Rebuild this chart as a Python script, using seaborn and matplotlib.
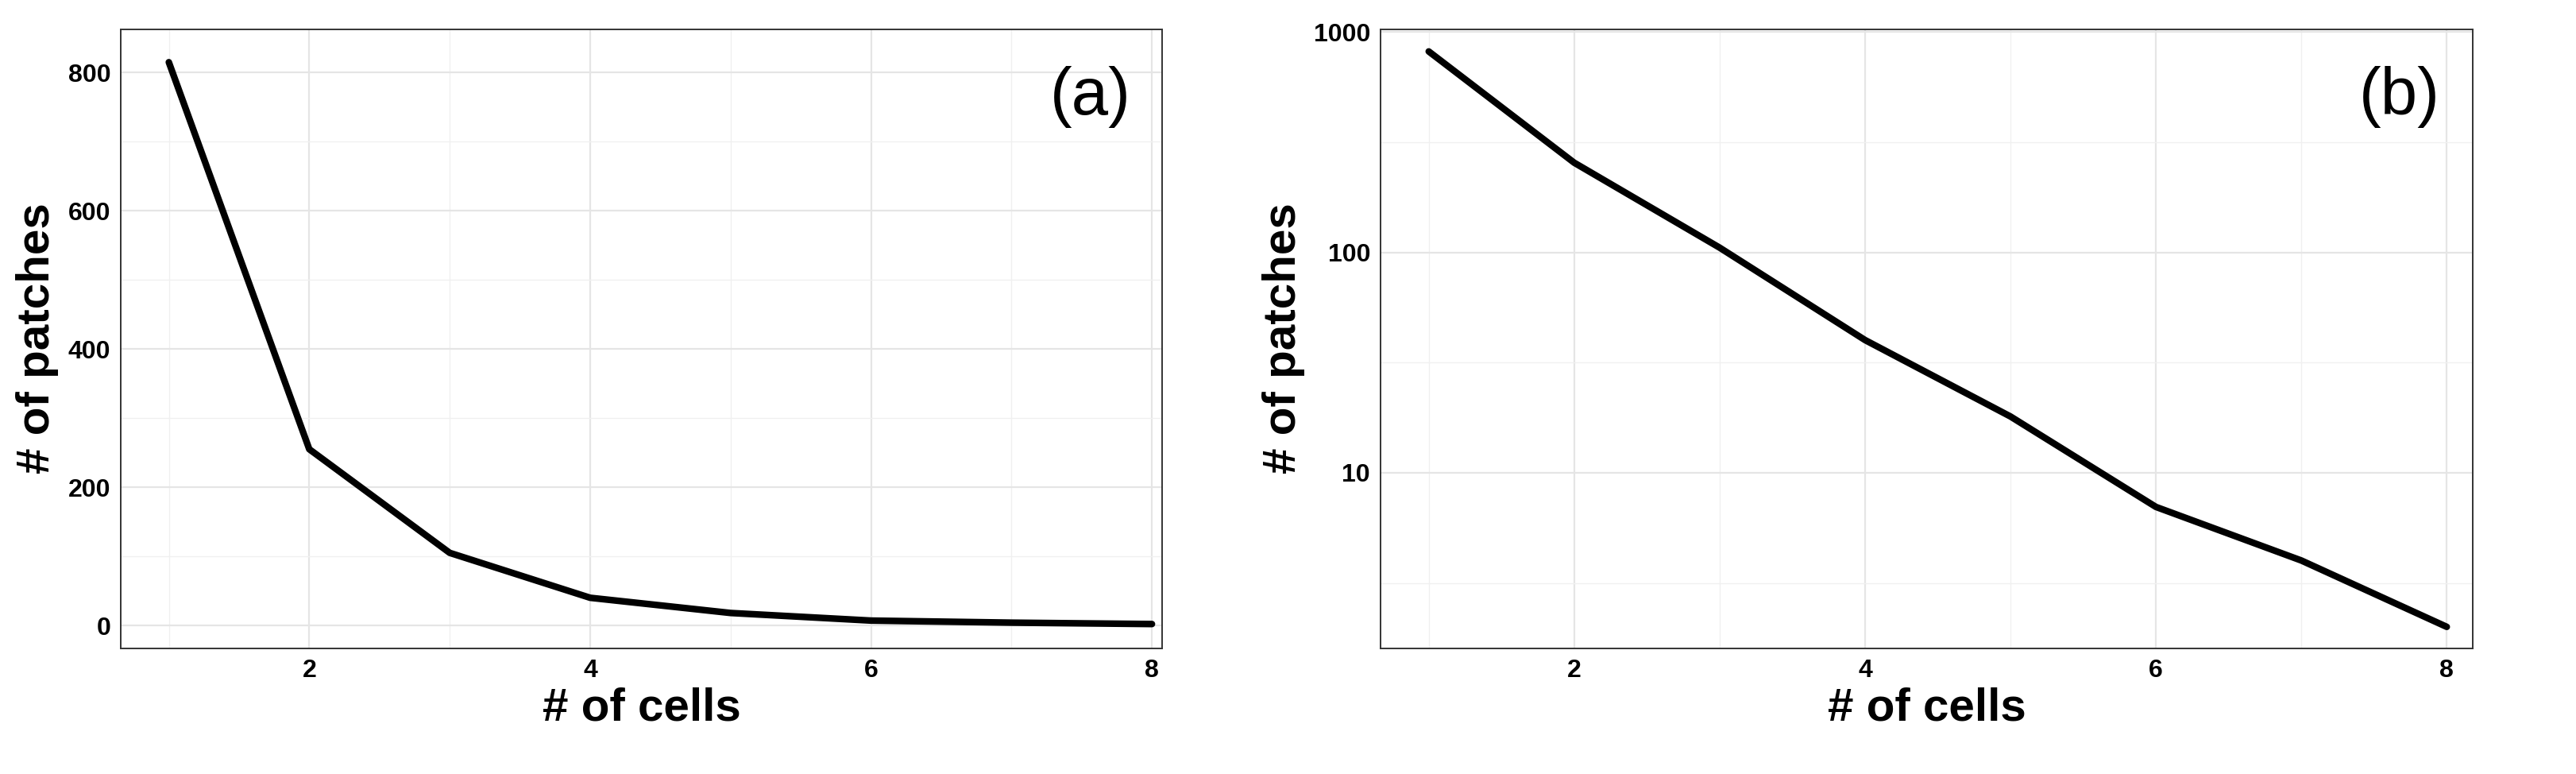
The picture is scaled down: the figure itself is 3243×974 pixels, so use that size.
import numpy as np
import pandas as pd
import matplotlib
matplotlib.use("Agg")
import matplotlib.pyplot as plt
import seaborn as sns
from matplotlib.ticker import FixedLocator, NullFormatter

cells = [1, 2, 3, 4, 5, 6, 7, 8]
patches = [815, 255, 105, 40, 18, 7, 4, 2]
df = pd.DataFrame({"cells": cells, "patches": patches})

sns.set_style("white")
plt.rcParams['font.family'] = ['Liberation Sans', 'DejaVu Sans']
plt.rcParams['text.color'] = 'black'
plt.rcParams['axes.labelcolor'] = 'black'
plt.rcParams['xtick.color'] = 'black'
plt.rcParams['ytick.color'] = 'black'

fig = plt.figure(figsize=(32.43, 9.74), dpi=100)
ax_a = fig.add_axes([0.047, 0.1625, 0.404, 0.8])
ax_b = fig.add_axes([0.536, 0.1625, 0.424, 0.8])

for ax, label in [(ax_a, "(a)"), (ax_b, "(b)")]:
    sns.lineplot(data=df, x="cells", y="patches", ax=ax, color="black", linewidth=6)
    ax.set_xlabel("# of cells", fontsize=42, fontweight="bold", labelpad=4)
    ax.set_ylabel("# of patches", fontsize=42, fontweight="bold", labelpad=8)
    ax.xaxis.set_major_locator(FixedLocator([2, 4, 6, 8]))
    ax.xaxis.set_minor_locator(FixedLocator([1, 3, 5, 7]))
    ax.tick_params(axis="both", which="major", labelsize=23, length=6, width=1.2, color="#333333")
    ax.tick_params(axis="both", which="minor", length=0)
    for t in ax.get_xticklabels() + ax.get_yticklabels():
        t.set_fontweight("bold")
    ax.grid(True, which="major", color="#e5e5e5", linewidth=1.6)
    ax.grid(True, which="minor", color="#f0f0f0", linewidth=1.0)
    ax.set_axisbelow(True)
    for s in ax.spines.values():
        s.set_color("#333333")
        s.set_linewidth(1.4)
    ax.text(0.97, 0.89, label, transform=ax.transAxes, fontsize=60, ha="right", va="center")

ax_a.set_xlim(0.66, 8.07)
ax_a.set_ylim(-33, 863)
ax_a.yaxis.set_major_locator(FixedLocator([0, 200, 400, 600, 800]))
ax_a.yaxis.set_minor_locator(FixedLocator([100, 300, 500, 700]))

ax_b.set_yscale("log")
ax_b.set_xlim(0.67, 8.18)
ax_b.set_ylim(1.6, 1030)
ax_b.yaxis.set_major_locator(FixedLocator([10, 100, 1000]))
ax_b.yaxis.set_minor_locator(FixedLocator([10 ** 0.5, 10 ** 1.5, 10 ** 2.5]))
ax_b.yaxis.set_minor_formatter(NullFormatter())
ax_b.set_yticklabels(["10", "100", "1000"], fontweight="bold", fontsize=23)

fig.savefig("out.png", dpi=100)
